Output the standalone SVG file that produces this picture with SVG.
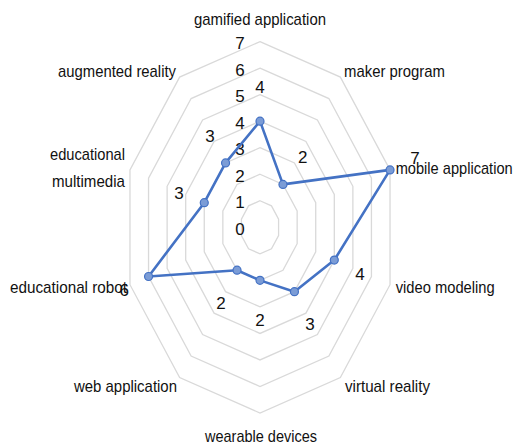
<svg xmlns="http://www.w3.org/2000/svg" width="517" height="448" viewBox="0 0 517 448">
  <style>
    .grid { fill: none; stroke: #d9d9d9; stroke-width: 1.3; }
    .series { fill: none; stroke: #4472c4; stroke-width: 2.6; stroke-linejoin: round; }
    .pt { fill: #7b9cd6; stroke: #4472c4; stroke-width: 1.2; }
    text { font-family: "Liberation Sans", Arial, sans-serif; font-size: 17px; fill: #111111; }
    .num { text-anchor: middle; }
  </style>
  <rect width="517" height="448" fill="#ffffff"/>

  <!-- radial grid: levels 1..7 -->
  <g id="grid">
    <polygon class="grid" points="260,200.77 271.48,205.84 278.58,219.10 278.58,235.50 271.48,248.76 260,253.83 248.52,248.76 241.42,235.50 241.42,219.10 248.52,205.84"/>
    <polygon class="grid" points="260,174.24 282.96,184.38 297.15,210.90 297.15,243.70 282.96,270.22 260,280.36 237.04,270.22 222.85,243.70 222.85,210.90 237.04,184.38"/>
    <polygon class="grid" points="260,147.71 294.44,162.92 315.73,202.71 315.73,251.89 294.44,291.68 260,306.89 225.56,291.68 204.27,251.89 204.27,202.71 225.56,162.92"/>
    <polygon class="grid" points="260,121.18 305.92,141.46 334.30,194.51 334.30,260.09 305.92,313.14 260,333.42 214.08,313.14 185.70,260.09 185.70,194.51 214.08,141.46"/>
    <polygon class="grid" points="260,94.65 317.40,120.00 352.88,186.31 352.88,268.29 317.40,334.60 260,359.95 202.60,334.60 167.12,268.29 167.12,186.31 202.60,120.00"/>
    <polygon class="grid" points="260,68.12 328.88,98.54 371.45,178.11 371.45,276.49 328.88,356.06 260,386.48 191.12,356.06 148.55,276.49 148.55,178.11 191.12,98.54"/>
    <polygon class="grid" points="260,41.59 340.36,77.08 390.03,169.91 390.03,284.69 340.36,377.52 260,413.01 179.64,377.52 129.97,284.69 129.97,169.91 179.64,77.08"/>
  </g>

  <!-- value axis labels -->
  <g id="value-axis" class="num">
    <text x="240" y="234.8">0</text>
    <text x="240" y="208.3">1</text>
    <text x="240" y="181.7">2</text>
    <text x="240" y="155.2">3</text>
    <text x="240" y="128.7">4</text>
    <text x="240" y="102.1">5</text>
    <text x="240" y="75.6">6</text>
    <text x="240" y="49.3">7</text>
  </g>

  <!-- data series -->
  <g id="connectors">
    <polygon class="series" points="260,121.18 282.96,184.38 390.03,169.91 334.30,260.09 294.44,291.68 260,280.36 237.04,270.22 148.55,276.49 204.27,202.71 225.56,162.92"/>
  </g>

  <g id="gamified-application">
    <circle class="pt" cx="260" cy="121.18" r="4"/>
    <text class="num" x="260" y="92.5">4</text>
    <text x="194" y="25" textLength="132" lengthAdjust="spacingAndGlyphs">gamified application</text>
  </g>
  <g id="maker-program">
    <circle class="pt" cx="282.96" cy="184.38" r="4"/>
    <text class="num" x="302.7" y="162.5">2</text>
    <text x="344" y="77.3" textLength="101" lengthAdjust="spacingAndGlyphs">maker program</text>
  </g>
  <g id="mobile-application">
    <circle class="pt" cx="390.03" cy="169.91" r="4"/>
    <text class="num" x="415" y="163.5">7</text>
    <text x="395.7" y="174" textLength="117" lengthAdjust="spacingAndGlyphs">mobile application</text>
  </g>
  <g id="video-modeling">
    <circle class="pt" cx="334.30" cy="260.09" r="4"/>
    <text class="num" x="360" y="279.5">4</text>
    <text x="395.7" y="293.3" textLength="99" lengthAdjust="spacingAndGlyphs">video modeling</text>
  </g>
  <g id="virtual-reality">
    <circle class="pt" cx="294.44" cy="291.68" r="4"/>
    <text class="num" x="310" y="330">3</text>
    <text x="345" y="391.7" textLength="85" lengthAdjust="spacingAndGlyphs">virtual reality</text>
  </g>
  <g id="wearable-devices">
    <circle class="pt" cx="260" cy="280.36" r="4"/>
    <text class="num" x="260" y="326">2</text>
    <text x="205" y="441.7" textLength="112" lengthAdjust="spacingAndGlyphs">wearable devices</text>
  </g>
  <g id="web-application">
    <circle class="pt" cx="237.04" cy="270.22" r="4"/>
    <text class="num" x="221" y="309">2</text>
    <text x="74" y="391.7" textLength="103" lengthAdjust="spacingAndGlyphs">web application</text>
  </g>
  <g id="educational-robot">
    <circle class="pt" cx="148.55" cy="276.49" r="4"/>
    <text x="10" y="293.3" textLength="117" lengthAdjust="spacingAndGlyphs">educational robot</text>
    <text class="num" x="124.3" y="296">6</text>
  </g>
  <g id="educational-multimedia">
    <circle class="pt" cx="204.27" cy="202.71" r="4"/>
    <text class="num" x="179" y="199">3</text>
    <text x="125" y="160" text-anchor="end" textLength="75" lengthAdjust="spacingAndGlyphs">educational</text>
    <text x="125" y="187" text-anchor="end" textLength="73" lengthAdjust="spacingAndGlyphs">multimedia</text>
  </g>
  <g id="augmented-reality">
    <circle class="pt" cx="225.56" cy="162.92" r="4"/>
    <text class="num" x="210" y="141.5">3</text>
    <text x="58" y="76.7" textLength="118" lengthAdjust="spacingAndGlyphs">augmented reality</text>
  </g>
</svg>
